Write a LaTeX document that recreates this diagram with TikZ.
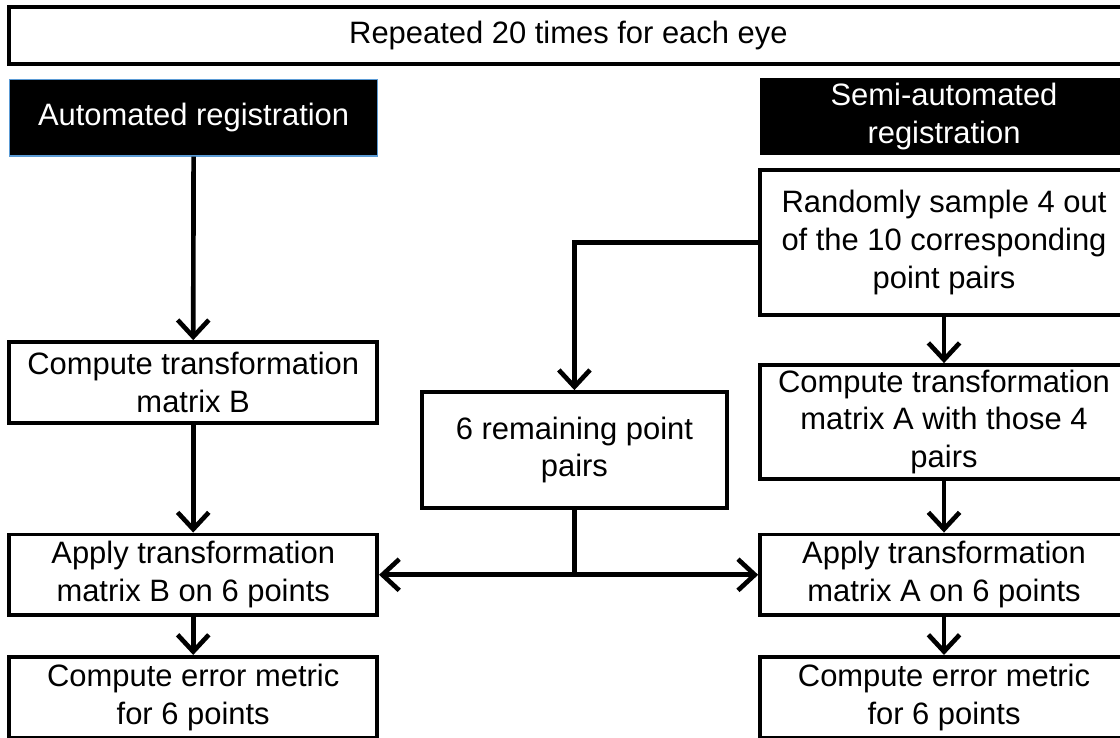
\documentclass[tikz,border=0pt]{standalone}
\usepackage{fontspec}
\setmainfont{Liberation Sans}
\usetikzlibrary{arrows.meta}
\definecolor{edgeblue}{RGB}{91,155,213}
\begin{document}
\begin{tikzpicture}[
            box/.style={rectangle, draw=black, line width=2.6pt, fill=white, minimum width=9.2cm, minimum height=2.02cm, align=center, font=\fontsize{22}{27}\selectfont},
            head/.style={rectangle, fill=black, text=white, minimum width=9.2cm, minimum height=1.92cm, align=center, font=\fontsize{22}{27}\selectfont},
            flow/.style={line width=3.3pt, -{Straight Barb[length=4.2mm, width=7.8mm, line width=3.3pt]}},
            link/.style={line width=3.3pt},
        ]
            \clip (0,0) rectangle (28,18.45);
            \node[box, minimum width=27.98cm, minimum height=1.43cm](repeatnode) at (14.21,17.56) {Repeated 20 times for each eye};
            \node[head, draw=edgeblue, line width=0.8pt](autonode) at (4.84,15.51) {Automated registration};
            \node[head](seminode) at (23.6,15.53) {Semi-automated\\registration};
            \node[box, minimum height=3.63cm](samplenode) at (23.6,12.39) {Randomly sample 4 out\\of the 10 corresponding\\point pairs};
            \node[box, minimum height=2.8cm](matrixAnode) at (23.6,7.9) {Compute transformation\\matrix A with those 4\\pairs};
            \node[box](applyAnode) at (23.6,4.08) {Apply transformation\\matrix A on 6 points};
            \node[box](errorAnode) at (23.6,1.02) {Compute error metric\\for 6 points};
            \node[box](matrixBnode) at (4.83,8.89) {Compute transformation\\matrix B};
            \node[box](applyBnode) at (4.83,4.08) {Apply transformation\\matrix B on 6 points};
            \node[box](errorBnode) at (4.83,1.02) {Compute error metric\\for 6 points};
            \node[box, minimum width=7.63cm, minimum height=2.9cm](remainnode) at (14.36,7.2) {6 remaining point\\pairs};
            \coordinate (splitnode) at (remainnode.south |- applyAnode.west);
            \draw[flow] (autonode.south) -- (matrixBnode.north);
            \draw[flow] (matrixBnode.south) -- (applyBnode.north);
            \draw[flow] (applyBnode.south) -- (errorBnode.north);
            \draw[flow] (samplenode.south) -- (matrixAnode.north);
            \draw[flow] (matrixAnode.south) -- (applyAnode.north);
            \draw[flow] (applyAnode.south) -- (errorAnode.north);
            \draw[flow] (samplenode.west) -| (remainnode.north);
            \draw[link] (remainnode.south) -- (splitnode);
            \draw[flow] (splitnode) -- (applyBnode.east);
            \draw[flow] (splitnode) -- (applyAnode.west);
        \end{tikzpicture}
\end{document}
